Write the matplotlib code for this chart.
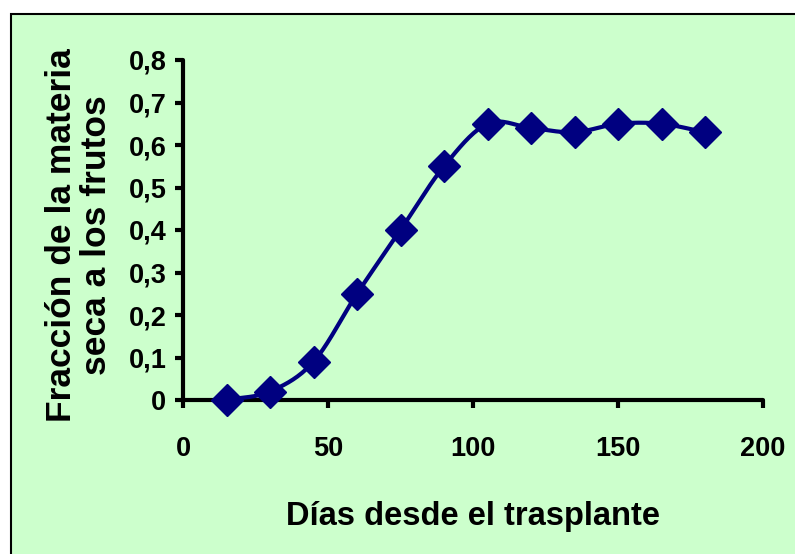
# Fracción de materia seca a los frutos
import matplotlib.pyplot as plt
import matplotlib.patches as patches
import numpy as np

plt.rcParams['font.family'] = ['Liberation Sans', 'DejaVu Sans']
plt.rcParams['font.weight'] = 'bold'

dias = [15, 30, 45, 60, 75, 90, 105, 120, 135, 150, 165, 180]
fraccion = [0.0, 0.02, 0.09, 0.25, 0.40, 0.55, 0.65, 0.64, 0.63, 0.65, 0.65, 0.63]
xticks = [0, 50, 100, 150, 200]
yticks = [0, 0.1, 0.2, 0.3, 0.4, 0.5, 0.6, 0.7, 0.8]
ytick_labels = ['0', '0,1', '0,2', '0,3', '0,4', '0,5', '0,6', '0,7', '0,8']


# curva suavizada (Catmull-Rom, como la linea suavizada de Excel)
def suavizar(x, y, n=20):
    x = np.asarray(x, float)
    y = np.asarray(y, float)
    px = np.concatenate([[2 * x[0] - x[1]], x, [2 * x[-1] - x[-2]]])
    py = np.concatenate([[2 * y[0] - y[1]], y, [2 * y[-1] - y[-2]]])
    xs, ys = [], []
    t = np.linspace(0, 1, n)
    for i in range(1, len(px) - 2):
        for p, out in ((px, xs), (py, ys)):
            p0, p1, p2, p3 = p[i - 1], p[i], p[i + 1], p[i + 2]
            out.extend(0.5 * (2 * p1 + (-p0 + p2) * t
                              + (2 * p0 - 5 * p1 + 4 * p2 - p3) * t ** 2
                              + (-p0 + 3 * p1 - 3 * p2 + p3) * t ** 3))
    return xs, ys


fig = plt.figure(figsize=(7.95, 5.54), dpi=100)
fig.patch.set_facecolor('white')
fondo = patches.Rectangle((11 / 795, -0.01), 1.0, 1 - 14 / 554 + 0.01,
                          transform=fig.transFigure, facecolor='#CCFFCC',
                          edgecolor='black', linewidth=1.5, zorder=-10)
fig.add_artist(fondo)

ax = fig.add_axes([183 / 795, 1 - 400 / 554, 580 / 795, 340 / 554])
ax.set_facecolor('none')

xs, ys = suavizar(dias, fraccion)
ax.plot(xs, ys, color='#000080', linewidth=3, clip_on=False, zorder=3)
ax.plot(dias, fraccion, linestyle='none', marker='D', markersize=16,
        color='#000080', clip_on=False, zorder=4)

ax.set_xlim(0, 200)
ax.set_ylim(0, 0.8)
ax.set_xticks(xticks)
ax.set_yticks(yticks)
ax.set_yticklabels(ytick_labels)

for s in ['top', 'right']:
    ax.spines[s].set_visible(False)
for s in ['left', 'bottom']:
    ax.spines[s].set_linewidth(3)
    ax.spines[s].set_capstyle('round')
ax.tick_params(axis='both', direction='out', length=6, width=3,
               labelsize=19.5, colors='black')
ax.tick_params(axis='x', pad=20)
ax.tick_params(axis='y', pad=6)

ax.set_xlabel('Días desde el trasplante', fontsize=23.5, fontweight='bold',
              labelpad=28)
ax.set_ylabel('Fracción de la materia\nseca a los frutos', fontsize=25.5,
              fontweight='bold', linespacing=1.1)
ax.yaxis.set_label_coords(-0.12, 0.485)

plt.savefig('out.png', dpi=100)
